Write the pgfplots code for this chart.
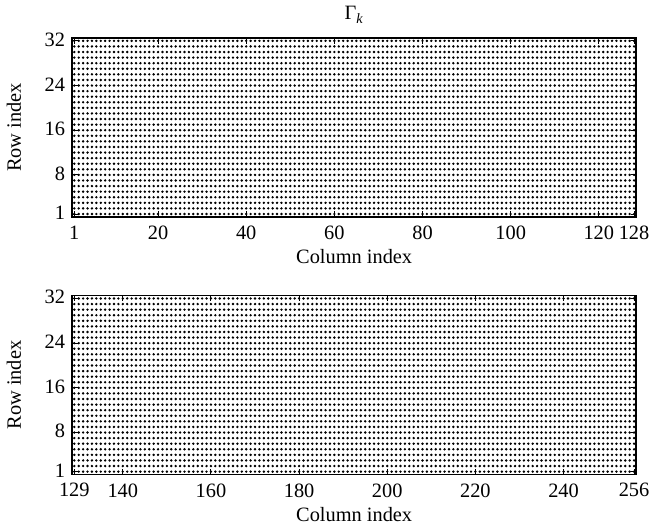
\documentclass[border=0pt]{standalone}
\usepackage{fontspec}
\setmainfont{Liberation Serif}
\usepackage{pgfplots}
\usepackage{pgfplotstable}
\pgfplotsset{compat=1.18}

% column indices of the two halves
\pgfplotstableread[row sep=\\]{c\\1\\2\\3\\4\\5\\6\\7\\8\\9\\10\\11\\12\\13\\14\\15\\16\\17\\18\\19\\20\\21\\22\\23\\24\\25\\26\\27\\28\\29\\30\\31\\32\\33\\34\\35\\36\\37\\38\\39\\40\\41\\42\\43\\44\\45\\46\\47\\48\\49\\50\\51\\52\\53\\54\\55\\56\\57\\58\\59\\60\\61\\62\\63\\64\\65\\66\\67\\68\\69\\70\\71\\72\\73\\74\\75\\76\\77\\78\\79\\80\\81\\82\\83\\84\\85\\86\\87\\88\\89\\90\\91\\92\\93\\94\\95\\96\\97\\98\\99\\100\\101\\102\\103\\104\\105\\106\\107\\108\\109\\110\\111\\112\\113\\114\\115\\116\\117\\118\\119\\120\\121\\122\\123\\124\\125\\126\\127\\128\\}\colsA
\pgfplotstableread[row sep=\\]{c\\129\\130\\131\\132\\133\\134\\135\\136\\137\\138\\139\\140\\141\\142\\143\\144\\145\\146\\147\\148\\149\\150\\151\\152\\153\\154\\155\\156\\157\\158\\159\\160\\161\\162\\163\\164\\165\\166\\167\\168\\169\\170\\171\\172\\173\\174\\175\\176\\177\\178\\179\\180\\181\\182\\183\\184\\185\\186\\187\\188\\189\\190\\191\\192\\193\\194\\195\\196\\197\\198\\199\\200\\201\\202\\203\\204\\205\\206\\207\\208\\209\\210\\211\\212\\213\\214\\215\\216\\217\\218\\219\\220\\221\\222\\223\\224\\225\\226\\227\\228\\229\\230\\231\\232\\233\\234\\235\\236\\237\\238\\239\\240\\241\\242\\243\\244\\245\\246\\247\\248\\249\\250\\251\\252\\253\\254\\255\\256\\}\colsB

\pgfplotsset{
  panel/.style={
    scale only axis,
    width=282.5pt, height=89.5pt,
    ymin=0.5, ymax=32.5,
    ytick={1,8,16,24,32},
    tick align=inside,
    major tick length=2.8pt,
    axis line style={line width=0.8pt},
    tick style={line width=0.5pt, black},
    font=\fontsize{10.2}{12}\selectfont,
    /pgf/number format/assume math mode=true,
    xlabel={Column index},
    ylabel={Row index},
    xticklabel style={yshift=-1pt},
    yticklabel style={yshift=0.6pt},
    xlabel style={yshift=2pt},
    ylabel style={yshift=5pt},
    anchor=north west,
  },
  dots/.style={only marks, mark=*, mark size=0.38pt, black, mark options={draw=none}},
}

\begin{document}
\begin{tikzpicture}
\begin{axis}[panel, at={(0,0)},
  xmin=0.5, xmax=128.5,
  xtick={1,20,40,60,80,100,120,128},
  title={Γ\textsubscript{\textit{k}}},
  title style={yshift=-2pt},
]
\pgfplotsinvokeforeach{1,2,3,4,5,6,7,8,9,10,11,12,13,14,15,16,17,18,19,20,21,22,23,24,25,26,27,28,29,30,31,32}{
  \addplot[dots] table[x index=0, y index=0, y expr=#1] {\colsA};
}
\end{axis}
\begin{axis}[panel, at={(0,-129pt)},
  xmin=128.5, xmax=256.5,
  xtick={129,140,160,180,200,220,240,256},
]
\pgfplotsinvokeforeach{1,2,3,4,5,6,7,8,9,10,11,12,13,14,15,16,17,18,19,20,21,22,23,24,25,26,27,28,29,30,31,32}{
  \addplot[dots] table[x index=0, y index=0, y expr=#1] {\colsB};
}
\end{axis}
\end{tikzpicture}
\end{document}
